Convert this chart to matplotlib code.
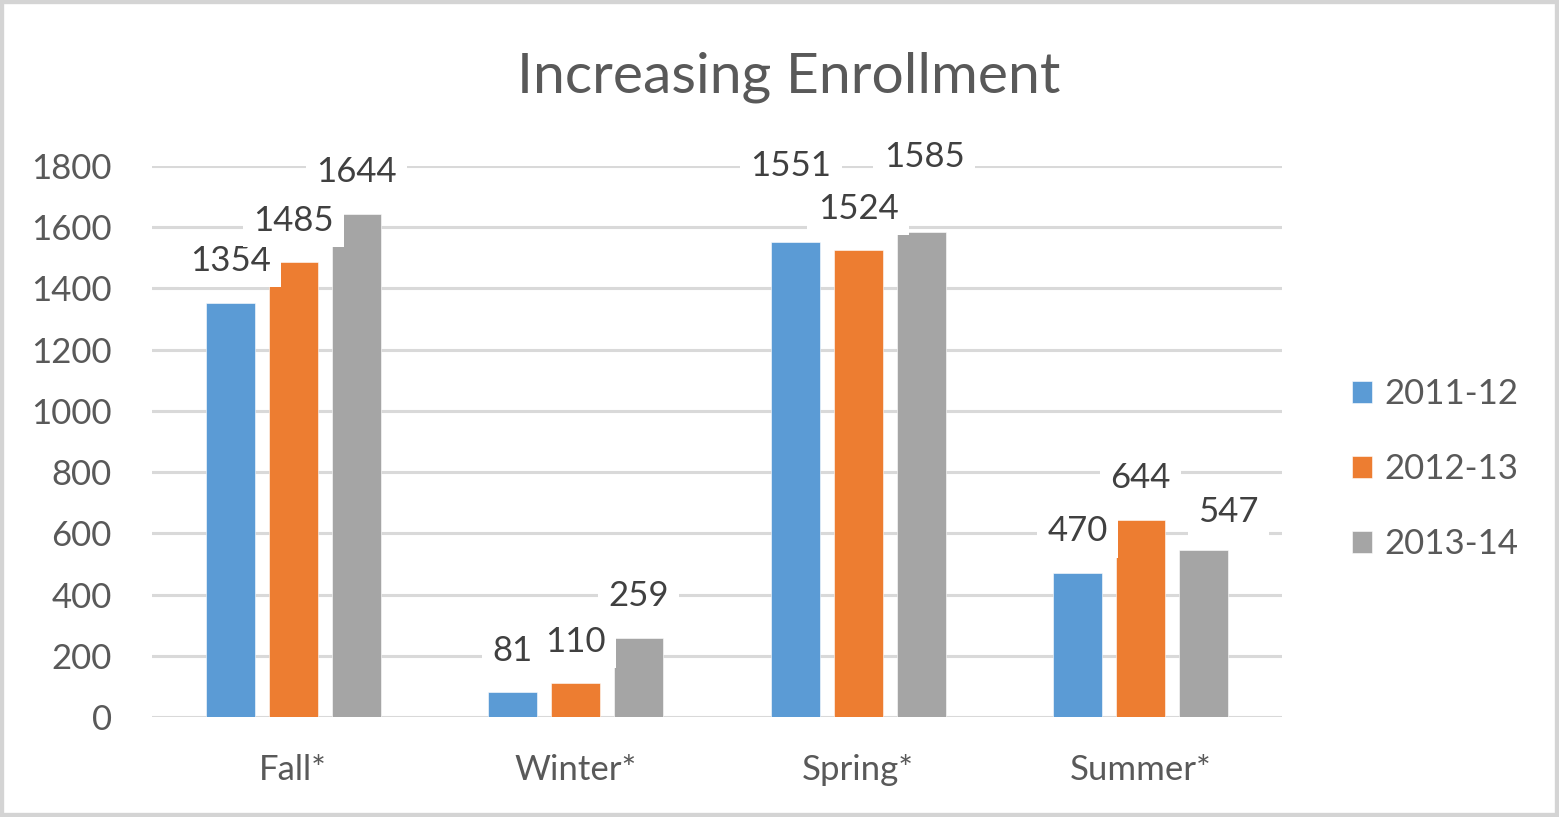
import matplotlib.pyplot as plt
import numpy as np
from matplotlib.patches import Rectangle

# Data
terms = ["Fall*", "Winter*", "Spring*", "Summer*"]
years = ["2011-12", "2012-13", "2013-14"]
enroll_2011 = [1354, 81, 1551, 470]
enroll_2012 = [1485, 110, 1524, 644]
enroll_2013 = [1644, 259, 1585, 547]
yticks = [0, 200, 400, 600, 800, 1000, 1200, 1400, 1600, 1800]

colors = ["#5B9BD5", "#ED7D31", "#A5A5A5"]
series = [enroll_2011, enroll_2012, enroll_2013]

# manual label nudges (points) like the hand-moved labels in the original
nudge = {(0, 2): (-3, 55), (2, 2): (2, 54), (2, 3): (18, 27)}

plt.rcParams['font.family'] = ['Lato', 'DejaVu Sans']

fig = plt.figure(figsize=(15.59, 8.17), dpi=100)
ax = fig.add_axes([0.0975, 0.1224, 0.7248, 0.6744])

x = np.arange(len(terms))
width = 0.173
step = 0.223
for i, (vals, c, lab) in enumerate(zip(series, colors, years)):
    pos = x + (i - 1) * step
    ax.bar(pos, vals, width, color=c, label=lab, zorder=2,
           edgecolor="white", linewidth=0.4)
    for j, v in enumerate(vals):
        dx, dy = nudge.get((i, j), (0, 30))
        ax.annotate(str(v), (pos[j], v), xytext=(dx, dy),
                    textcoords="offset points", ha="center", va="center",
                    fontsize=25, color="#404040", zorder=5,
                    bbox=dict(boxstyle="square,pad=0.3", fc="white", ec="none"))

ax.set_xlim(-0.5, 3.5)
ax.set_ylim(0, 1800)
ax.set_yticks(yticks)
ax.set_xticks(x)
ax.set_xticklabels(terms)
ax.grid(axis="y", color="#D9D9D9", linewidth=2.2, zorder=0)
ax.set_axisbelow(True)
for s in ax.spines.values():
    s.set_visible(False)
ax.tick_params(axis="both", length=0, labelsize=25, labelcolor="#595959")
ax.tick_params(axis="y", pad=29)
ax.tick_params(axis="x", pad=27)

fig.text(0.506, 0.905, "Increasing Enrollment", ha="center", va="center",
         fontsize=41, color="#595959")

leg = ax.legend(loc="center left", bbox_to_anchor=(1.034, 0.45), frameon=False,
                fontsize=25, handlelength=0.6, handleheight=0.6,
                handletextpad=0.35, labelspacing=1.23, labelcolor="#595959")

fig.patches.append(Rectangle((0, 0), 1, 1, transform=fig.transFigure,
                             fill=False, ec="#D4D4D4", lw=6))

fig.savefig("out.png", dpi=100)
